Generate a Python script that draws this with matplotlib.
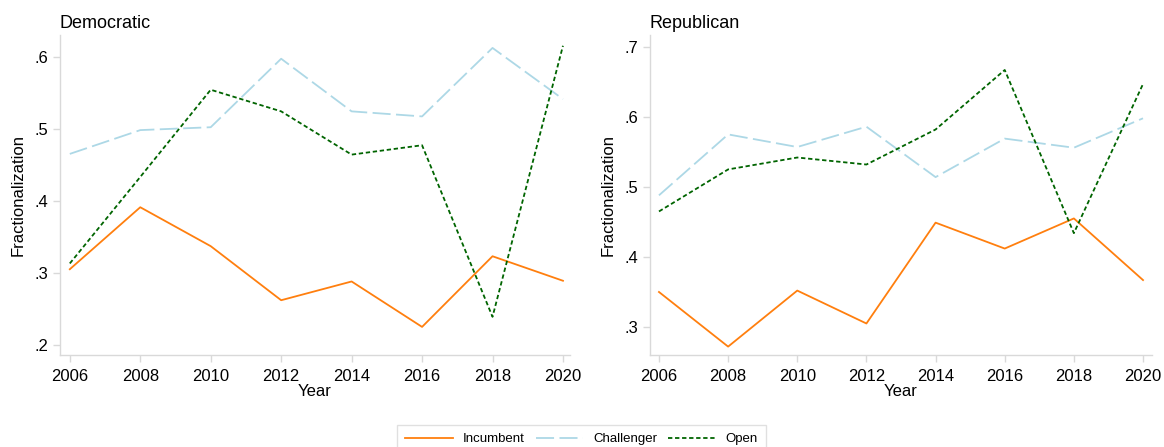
import numpy as np
import matplotlib.pyplot as plt
from matplotlib.ticker import FuncFormatter

plt.rcParams['font.family'] = ['Liberation Sans', 'DejaVu Sans']

years = [2006, 2008, 2010, 2012, 2014, 2016, 2018, 2020]

# Democratic primaries
dem_incumbent = [0.305, 0.391, 0.337, 0.262, 0.288, 0.225, 0.323, 0.289]
dem_challenger = [0.465, 0.498, 0.502, 0.597, 0.524, 0.517, 0.612, 0.541]
dem_open = [0.313, 0.433, 0.554, 0.524, 0.464, 0.477, 0.239, 0.615]

# Republican primaries
rep_incumbent = [0.350, 0.272, 0.352, 0.305, 0.449, 0.412, 0.455, 0.367]
rep_challenger = [0.488, 0.575, 0.557, 0.586, 0.514, 0.569, 0.556, 0.598]
rep_open = [0.465, 0.525, 0.542, 0.532, 0.582, 0.667, 0.434, 0.647]

series_names = ['Incumbent', 'Challenger', 'Open']
colors = ['#ff7f0e', '#add8e6', '#006400']
styles = ['-', (0, (10, 3)), (0, (2.4, 1.5))]

fig = plt.figure(figsize=(11.64, 4.47), dpi=100)
ax1 = fig.add_axes([0.0515, 0.2058, 0.4382, 0.716])
ax2 = fig.add_axes([0.5584, 0.2058, 0.4313, 0.716])

def nolead(v, pos):
    s = f'{v:.1f}'
    return s[1:] if s.startswith('0') else s

def style_axis(ax, title, yticks, ylim, xlim):
    ax.set_title(title, loc='left', fontsize=13, pad=5)
    ax.set_xlim(*xlim)
    ax.set_ylim(*ylim)
    ax.set_xticks(years)
    ax.set_yticks(yticks)
    ax.yaxis.set_major_formatter(FuncFormatter(nolead))
    ax.set_xlabel('Year', fontsize=12, labelpad=0)
    ax.set_ylabel('Fractionalization', fontsize=12, labelpad=6)
    for side in ['top', 'right']:
        ax.spines[side].set_visible(False)
    for side in ['left', 'bottom']:
        ax.spines[side].set_color('#d9d9d9')
        ax.spines[side].set_linewidth(1.0)
    ax.tick_params(axis='both', colors='#d9d9d9', labelcolor='black',
                   labelsize=12, length=5, width=1.0)
    ax.tick_params(axis='x', pad=5)

lines = []
for ax, data in [(ax1, [dem_incumbent, dem_challenger, dem_open]),
                 (ax2, [rep_incumbent, rep_challenger, rep_open])]:
    lines = []
    for vals, name, c, ls in zip(data, series_names, colors, styles):
        ln, = ax.plot(years, vals, color=c, linestyle=ls, linewidth=1.3, label=name)
        lines.append(ln)

style_axis(ax1, 'Democratic', [0.2, 0.3, 0.4, 0.5, 0.6], (0.186, 0.63), (2005.72, 2020.2))
style_axis(ax2, 'Republican', [0.3, 0.4, 0.5, 0.6, 0.7], (0.26, 0.717), (2005.74, 2020.26))

leg = fig.legend(lines, series_names, loc='upper center', bbox_to_anchor=(0.4995, 0.049),
                 ncol=3, fontsize=9.5, frameon=True, fancybox=False, borderaxespad=0,
                 handlelength=3.6, handletextpad=0.75, columnspacing=0.85,
                 borderpad=0.6)
leg.get_frame().set_edgecolor('#d9d9d9')
leg.get_frame().set_linewidth(1.0)

fig.savefig('out.png', dpi=100)
